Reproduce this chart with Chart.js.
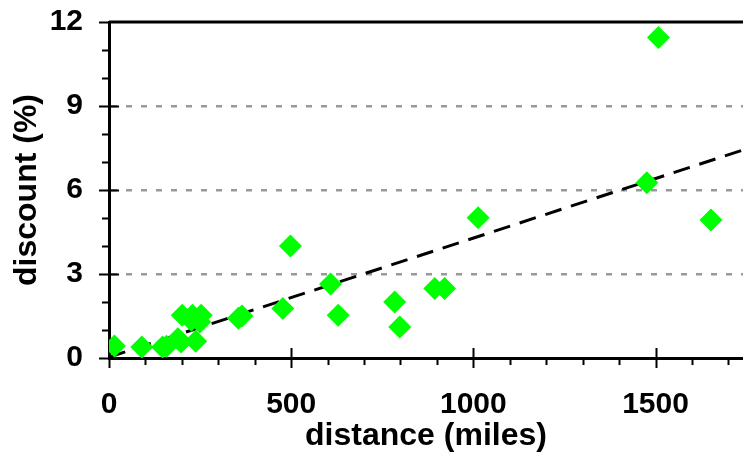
<!DOCTYPE html>
<html>
<head>
<meta charset="utf-8">
<script src="https://cdn.jsdelivr.net/npm/chart.js@4"></script>
<style>
  html, body { margin: 0; padding: 0; background: #fff; }
  #wrap { width: 743px; height: 455px; position: relative; }
</style>
</head>
<body>
<div id="wrap"><canvas id="chart"></canvas></div>
<script>
'use strict';

// distance (miles) and discount (%) for each route
var distance = [15, 90, 147, 158, 189, 198, 238, 201, 229, 253, 249, 226, 355, 365,
  477, 498, 608, 629, 784, 798, 894, 921, 1013, 1476, 1652, 1508];
var discount = [0.43, 0.39, 0.39, 0.42, 0.69, 0.57, 0.6, 1.53, 1.53, 1.53, 1.29, 1.35, 1.42, 1.5,
  1.77, 4.0, 2.64, 1.53, 2.0, 1.11, 2.48, 2.48, 5.01, 6.26, 4.93, 11.45];

// fitted trend line end points
var trendX = [0, 1740];
var trendY = [0.03, 7.43];

var xTickLabels = [0, 500, 1000, 1500];
var yTickLabels = [0, 3, 6, 9, 12];

var points = [];
for (var i = 0; i < distance.length; i++) {
  points.push({ x: distance[i], y: discount[i] });
}
var trend = [];
for (var j = 0; j < trendX.length; j++) {
  trend.push({ x: trendX[j], y: trendY[j] });
}

var family = "'Liberation Sans', Arial, sans-serif";

// tick marks: long ones across the axis at labelled values, short ones outside
var tickMarks = {
  id: 'tickMarks',
  afterDraw: function (chart) {
    var c = chart.ctx;
    var area = chart.chartArea;
    var xs = chart.scales.x;
    var ys = chart.scales.y;
    c.save();
    c.strokeStyle = '#000';
    c.lineWidth = 2;
    c.beginPath();
    xs.ticks.forEach(function (t) {
      var px = Math.round(xs.getPixelForValue(t.value)) + 0.5;
      var major = xTickLabels.indexOf(t.value) >= 0;
      c.moveTo(px, area.bottom + (major ? 10 : 7));
      c.lineTo(px, area.bottom - (major && t.value > 0 ? 10 : 0));
    });
    ys.ticks.forEach(function (t) {
      var py = Math.round(ys.getPixelForValue(t.value)) + 0.5;
      var major = yTickLabels.indexOf(t.value) >= 0;
      c.moveTo(area.left - (major ? 10 : 7), py);
      c.lineTo(area.left + (major && t.value > 0 && t.value < 12 ? 10 : 0), py);
    });
    c.stroke();
    // top frame line
    c.lineWidth = 3;
    c.beginPath();
    c.moveTo(area.left, area.top);
    c.lineTo(chart.width, area.top);
    c.stroke();
    c.restore();
  }
};

var ctx = document.getElementById('chart').getContext('2d');

var chart = new Chart(ctx, {
  type: 'scatter',
  data: {
    datasets: [
      {
        label: 'routes',
        data: points,
        pointStyle: 'rectRot',
        pointRadius: 11.5,
        pointHoverRadius: 11.5,
        pointBackgroundColor: '#00ff00',
        pointBorderWidth: 0,
        order: 0
      },
      {
        type: 'line',
        label: 'trend',
        data: trend,
        borderColor: '#000',
        borderWidth: 3,
        borderDash: [17, 10],
        pointRadius: 0,
        fill: false,
        order: 1
      }
    ]
  },
  options: {
    responsive: true,
    maintainAspectRatio: false,
    animation: false,
    layout: { autoPadding: false, padding: { top: 22, right: 0, left: 0, bottom: 0 } },
    plugins: {
      legend: { display: false },
      tooltip: { enabled: false }
    },
    scales: {
      x: {
        type: 'linear',
        min: 0,
        max: 1740,
        afterFit: function (s) { s.height = 97; s.paddingRight = 0; s.paddingLeft = 0; },
        ticks: {
          stepSize: 100,
          includeBounds: false,
          autoSkip: false,
          maxRotation: 0,
          padding: 0,
          color: '#000',
          // tall line box pushes the labels down without side padding
          font: { family: family, size: 30, weight: 'bold', lineHeight: '94px' },
          callback: function (v) { return xTickLabels.indexOf(v) >= 0 ? String(v) : ''; }
        },
        grid: { display: false, drawTicks: false },
        border: { display: true, color: '#000', width: 3 },
        title: {
          display: true,
          text: 'distance (miles)',
          color: '#000',
          font: { family: family, size: 32, weight: 'bold' },
          padding: { top: 0, bottom: 0 }
        }
      },
      y: {
        type: 'linear',
        min: 0,
        max: 12,
        afterFit: function (s) { s.width = 109; s.paddingTop = 0; s.paddingBottom = 0; },
        ticks: {
          stepSize: 1,
          autoSkip: false,
          padding: 26,
          color: '#000',
          font: { family: family, size: 30, weight: 'bold' },
          callback: function (v) { return yTickLabels.indexOf(v) >= 0 ? String(v) : ''; }
        },
        grid: {
          drawTicks: false,
          lineWidth: 2.5,
          color: function (c) {
            var v = c.tick ? c.tick.value : 0;
            return (v === 3 || v === 6 || v === 9) ? '#999999' : 'rgba(0,0,0,0)';
          }
        },
        border: { display: true, color: '#000', width: 3, dash: [6, 9] },
        title: {
          display: true,
          text: 'discount (%)',
          color: '#000',
          font: { family: family, size: 32, weight: 'bold' },
          padding: { top: 8, bottom: 0 }
        }
      }
    }
  },
  plugins: [tickMarks]
});
</script>
</body>
</html>
